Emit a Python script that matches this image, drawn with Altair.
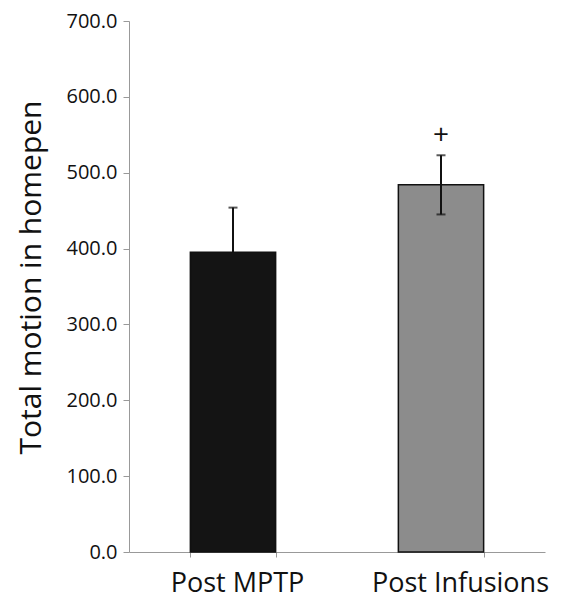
import altair as alt
import pandas as pd

categories = ["Post MPTP", "Post Infusions"]
means = [395, 484]
err_low = [395, 445]
err_high = [454, 523]
bar_colors = ["#141414", "#8c8c8c"]
cap_cats = ["Post MPTP", "Post Infusions", "Post Infusions"]
cap_vals = [454, 523, 445]
sig_cats = ["Post Infusions"]
sig_vals = [549]
sig_text = ["+"]

df = pd.DataFrame({"cat": categories, "mean": means, "lo": err_low, "hi": err_high, "color": bar_colors})
caps = pd.DataFrame({"cat": cap_cats, "v": cap_vals})
sig = pd.DataFrame({"cat": sig_cats, "v": sig_vals, "t": sig_text})

FONT = "Open Sans"

xenc = alt.X("cat:N", sort=categories, title=None,
             scale=alt.Scale(paddingInner=0.59, paddingOuter=0.295),
             axis=alt.Axis(labelAngle=0, labelFontSize=27, labelFont=FONT, labelColor="#111",
                           tickBand="extent", tickSize=5, tickColor="#999", domainColor="#999",
                           labelPadding=13,
                           labelOffset=alt.ExprRef("datum.value == 'Post Infusions' ? 19 : 4")))
yscale = alt.Scale(domain=[0, 700], nice=False)

bars = alt.Chart(df).mark_bar(stroke="#111", strokeWidth=1.5).encode(
    x=xenc,
    y=alt.Y("mean:Q", scale=yscale, title="Total motion in homepen",
            axis=alt.Axis(values=list(range(0, 701, 100)), format=".1f", labelFontSize=20,
                          labelFont=FONT, labelColor="#111", tickColor="#999", domainColor="#999",
                          tickSize=6, labelPadding=6, grid=False, titleFont=FONT,
                          titleFontSize=30, titleFontWeight="normal", titleColor="#111",
                          titlePadding=20, titleY=256)),
    color=alt.Color("color:N", scale=None),
)

rules = alt.Chart(df).mark_rule(color="#111", strokeWidth=2).encode(
    x=alt.X("cat:N", sort=categories), y=alt.Y("lo:Q", scale=yscale), y2="hi:Q")

capm = alt.Chart(caps).mark_tick(color="#111", thickness=2, size=9, orient="horizontal").encode(
    x=alt.X("cat:N", sort=categories), y=alt.Y("v:Q", scale=yscale))

sigm = alt.Chart(sig).mark_text(fontSize=28, font=FONT, color="#111", baseline="middle").encode(
    x=alt.X("cat:N", sort=categories), y=alt.Y("v:Q", scale=yscale), text="t:N")

chart = alt.layer(bars, rules, capm, sigm).properties(
    width=416, height=531,
    autosize=alt.AutoSizeParams(type="none"),
    padding={"left": 121, "top": 13, "right": 10, "bottom": 50},
).configure_view(stroke=None)

chart.save("out.html", embed_options={"renderer": "svg", "actions": False})
